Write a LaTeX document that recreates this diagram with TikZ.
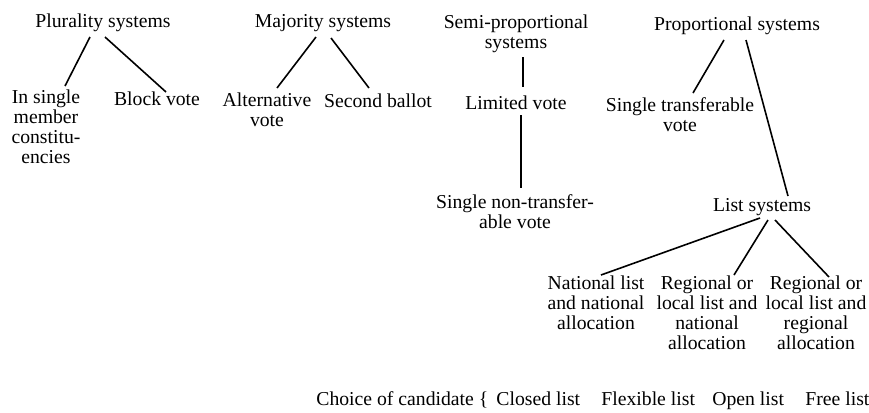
\documentclass[tikz,border=0pt]{standalone}
\usepackage{fontspec}
\setmainfont{Liberation Serif}
\usepackage{tikz}
\usetikzlibrary{calc}

\begin{document}
\begin{tikzpicture}[
  x=0.5pt, y=-0.5pt,
  lbl/.style={align=center, inner sep=1pt, font=\fontsize{9.85}{10}\selectfont},
  row/.style={lbl, anchor=base west},
  link/.style={draw=black, line width=0.8pt}
]
\useasboundingbox[fill=white] (0,0) rectangle (869,413);
% families
\node[lbl] (plur) at (103,23) {Plurality systems};
\node[lbl] (major) at (323,23) {Majority systems};
\node[lbl] (semi) at (516,34) {Semi-proportional\\systems};
\node[lbl] (prop) at (737,26) {Proportional systems};
% second level
\node[lbl] (single) at (46,127) {In single\\member\\constitu-\\encies};
\node[lbl] (block) at (157,99) {Block vote};
\node[lbl] (alt) at (267,110) {Alternative\\vote};
\node[lbl] (second) at (378,101) {Second ballot};
\node[lbl] (limited) at (516,103) {Limited vote};
\node[lbl] (stv) at (680,115) {Single transferable\\vote};
\node[lbl] (sntv) at (515,212) {Single non-transfer-\\able vote};
\node[lbl] (list) at (762,207) {List systems};
% list systems
\node[lbl] (natl) at (596,303) {National list\\and national\\allocation};
\node[lbl] (regnat) at (707,313) {Regional or\\local list and\\national\\allocation};
\node[lbl] (regreg) at (816,313) {Regional or\\local list and\\regional\\allocation};
% candidate choice
\node[row] (choice) at (314,405) {Choice of candidate \{};
\node[row] (closed) at (494,405) {Closed list};
\node[row] (flex) at (599,405) {Flexible list};
\node[row] (open) at (710,405) {Open list};
\node[row] (free) at (803,405) {Free list};

\draw[link] ($(plur)+(-13,14)$) -- ($(single)+(19,-41)$);
\draw[link] ($(plur)+(2,14)$) -- ($(block)+(9,-7)$);
\draw[link] ($(major)+(-7,14)$) -- ($(alt)+(10,-22)$);
\draw[link] ($(major)+(8,15)$) -- ($(second)+(-9,-13)$);
\draw[link] ($(semi)+(7,23)$) -- ($(limited)+(7,-16)$);
\draw[link] ($(limited)+(5,12)$) -- ($(sntv)+(6,-24)$);
\draw[link] ($(prop)+(-13,14)$) -- ($(stv)+(13,-22)$);
\draw[link] ($(prop)+(9,14)$) -- ($(list)+(26,-11)$);
\draw[link] ($(list)+(-2,11)$) -- ($(natl)+(5,-28)$);
\draw[link] ($(list)+(6,13)$) -- ($(regnat)+(27,-38)$);
\draw[link] ($(list)+(13,13)$) -- ($(regreg)+(13,-36)$);
\end{tikzpicture}
\end{document}
